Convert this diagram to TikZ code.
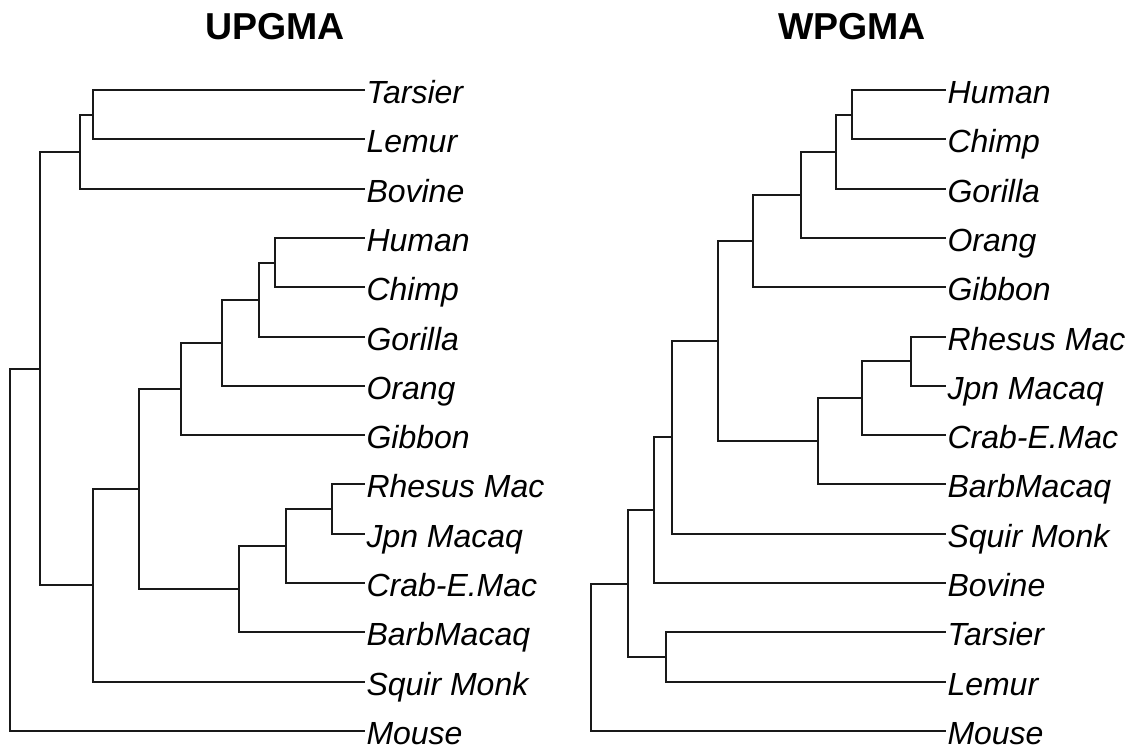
\documentclass[tikz,border=0pt]{standalone}
\usepackage{fontspec}
\setmainfont{Liberation Sans}
\begin{document}
\begin{tikzpicture}[x=1pt,y=-1pt,
  branch/.style={draw=black!90,line width=1.8pt},
  leaf/.style={anchor=west,inner xsep=1.5pt,inner ysep=0pt,outer sep=0pt,
    text height=27.4pt,text depth=1.4pt,
    font=\itshape\fontsize{32}{38}\selectfont},
  treetitle/.style={anchor=base,inner sep=0pt,
    font=\bfseries\fontsize{37.5}{45}\selectfont}]
\useasboundingbox (0,0) rectangle (1133,747);

% titles
\node[treetitle] (tU) at (275,39) {UPGMA};
\node[treetitle] (tW) at (852,39) {WPGMA};

% ---------------- UPGMA tree ----------------
\node[leaf] (uTarsier) at (365,90)  {Tarsier};
\node[leaf] (uLemur)   at (365,139) {Lemur};
\node[leaf] (uBovine)  at (365,189) {Bovine};
\node[leaf] (uHuman)   at (365,238) {Human};
\node[leaf] (uChimp)   at (365,287) {Chimp};
\node[leaf] (uGorilla) at (365,337) {Gorilla};
\node[leaf] (uOrang)   at (365,386) {Orang};
\node[leaf] (uGibbon)  at (365,435) {Gibbon};
\node[leaf] (uRhesus)  at (365,484) {Rhesus Mac};
\node[leaf] (uJpn)     at (365,534) {Jpn Macaq};
\node[leaf] (uCrab)    at (365,583) {Crab-E.Mac};
\node[leaf] (uBarb)    at (365,632) {BarbMacaq};
\node[leaf] (uSquir)   at (365,682) {Squir Monk};
\node[leaf] (uMouse)   at (365,731) {Mouse};

\coordinate (uTL)    at (93,115);
\coordinate (uTLB)   at (80,152);
\coordinate (uHC)    at (275,263);
\coordinate (uHCG)   at (259,300);
\coordinate (uHCGO)  at (222,343);
\coordinate (uApes)  at (181,389);
\coordinate (uRJ)    at (332,509);
\coordinate (uRJC)   at (286,546);
\coordinate (uMac)   at (239,589);
\coordinate (uCat)   at (139,489);
\coordinate (uAnth)  at (93,585);
\coordinate (uEuth)  at (40,369);
\coordinate (uRoot)  at (10,550);

\draw[branch] (uTL) |- (uTarsier.west);
\draw[branch] (uTL) |- (uLemur.west);
\draw[branch] (uTLB) |- (uTL);
\draw[branch] (uTLB) |- (uBovine.west);
\draw[branch] (uHC) |- (uHuman.west);
\draw[branch] (uHC) |- (uChimp.west);
\draw[branch] (uHCG) |- (uHC);
\draw[branch] (uHCG) |- (uGorilla.west);
\draw[branch] (uHCGO) |- (uHCG);
\draw[branch] (uHCGO) |- (uOrang.west);
\draw[branch] (uApes) |- (uHCGO);
\draw[branch] (uApes) |- (uGibbon.west);
\draw[branch] (uRJ) |- (uRhesus.west);
\draw[branch] (uRJ) |- (uJpn.west);
\draw[branch] (uRJC) |- (uRJ);
\draw[branch] (uRJC) |- (uCrab.west);
\draw[branch] (uMac) |- (uRJC);
\draw[branch] (uMac) |- (uBarb.west);
\draw[branch] (uCat) |- (uApes);
\draw[branch] (uCat) |- (uMac);
\draw[branch] (uAnth) |- (uCat);
\draw[branch] (uAnth) |- (uSquir.west);
\draw[branch] (uEuth) |- (uTLB);
\draw[branch] (uEuth) |- (uAnth);
\draw[branch] (uRoot) |- (uEuth);
\draw[branch] (uRoot) |- (uMouse.west);

% ---------------- WPGMA tree ----------------
\node[leaf] (wHuman)   at (946,90)  {Human};
\node[leaf] (wChimp)   at (946,139) {Chimp};
\node[leaf] (wGorilla) at (946,189) {Gorilla};
\node[leaf] (wOrang)   at (946,238) {Orang};
\node[leaf] (wGibbon)  at (946,287) {Gibbon};
\node[leaf] (wRhesus)  at (946,337) {Rhesus Mac};
\node[leaf] (wJpn)     at (946,386) {Jpn Macaq};
\node[leaf] (wCrab)    at (946,435) {Crab-E.Mac};
\node[leaf] (wBarb)    at (946,484) {BarbMacaq};
\node[leaf] (wSquir)   at (946,534) {Squir Monk};
\node[leaf] (wBovine)  at (946,583) {Bovine};
\node[leaf] (wTarsier) at (946,632) {Tarsier};
\node[leaf] (wLemur)   at (946,682) {Lemur};
\node[leaf] (wMouse)   at (946,731) {Mouse};

\coordinate (wHC)    at (852,115);
\coordinate (wHCG)   at (836,152);
\coordinate (wHCGO)  at (801,195);
\coordinate (wApes)  at (753,241);
\coordinate (wRJ)    at (911,361);
\coordinate (wRJC)   at (862,398);
\coordinate (wMac)   at (818,441);
\coordinate (wCat)   at (718,341);
\coordinate (wAnth)  at (672,437);
\coordinate (wBov)   at (654,510);
\coordinate (wTL)    at (666,657);
\coordinate (wEuth)  at (628,584);
\coordinate (wRoot)  at (591,657);

\draw[branch] (wHC) |- (wHuman.west);
\draw[branch] (wHC) |- (wChimp.west);
\draw[branch] (wHCG) |- (wHC);
\draw[branch] (wHCG) |- (wGorilla.west);
\draw[branch] (wHCGO) |- (wHCG);
\draw[branch] (wHCGO) |- (wOrang.west);
\draw[branch] (wApes) |- (wHCGO);
\draw[branch] (wApes) |- (wGibbon.west);
\draw[branch] (wRJ) |- (wRhesus.west);
\draw[branch] (wRJ) |- (wJpn.west);
\draw[branch] (wRJC) |- (wRJ);
\draw[branch] (wRJC) |- (wCrab.west);
\draw[branch] (wMac) |- (wRJC);
\draw[branch] (wMac) |- (wBarb.west);
\draw[branch] (wCat) |- (wApes);
\draw[branch] (wCat) |- (wMac);
\draw[branch] (wAnth) |- (wCat);
\draw[branch] (wAnth) |- (wSquir.west);
\draw[branch] (wBov) |- (wAnth);
\draw[branch] (wBov) |- (wBovine.west);
\draw[branch] (wTL) |- (wTarsier.west);
\draw[branch] (wTL) |- (wLemur.west);
\draw[branch] (wEuth) |- (wBov);
\draw[branch] (wEuth) |- (wTL);
\draw[branch] (wRoot) |- (wEuth);
\draw[branch] (wRoot) |- (wMouse.west);
\end{tikzpicture}
\end{document}
